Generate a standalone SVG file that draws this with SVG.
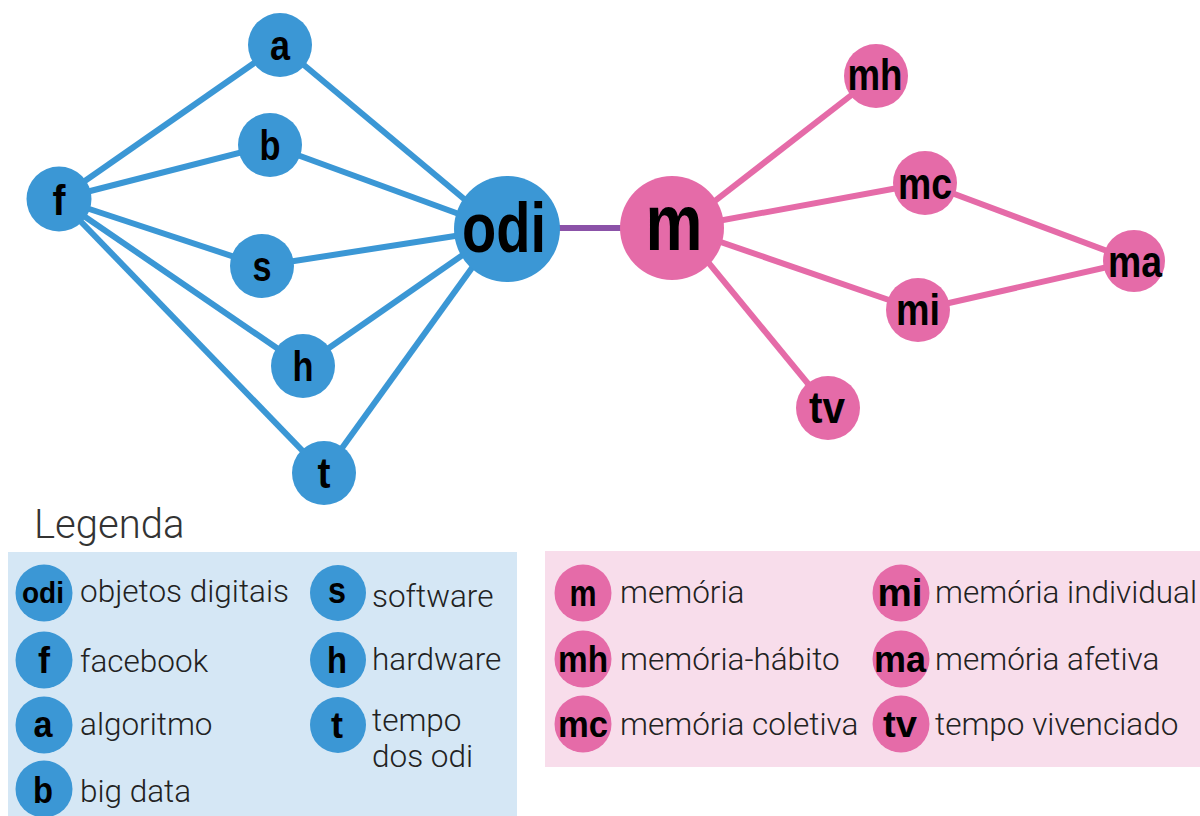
<svg xmlns="http://www.w3.org/2000/svg" width="1200" height="816" viewBox="0 0 1200 816">
<style>
.bn{fill:#3B97D5}
.pn{fill:#E56BA8}
.lb{font-family:"Liberation Sans",Arial,sans-serif;font-weight:bold;fill:#000;text-anchor:middle}
.lt{font-family:Roboto,"Open Sans",sans-serif;font-weight:300;font-size:31.5px;fill:#222}
.be{stroke:#3B97D5;stroke-width:6;fill:none}
.pe{stroke:#E56BA8;stroke-width:6;fill:none}
</style>
<rect width="1200" height="816" fill="#fff"/>
<g id="connectors">
<line class="be" x1="59" y1="199" x2="280" y2="45"/>
<line class="be" x1="59" y1="199" x2="270" y2="145"/>
<line class="be" x1="59" y1="199" x2="262" y2="266"/>
<line class="be" x1="59" y1="199" x2="303" y2="366"/>
<line class="be" x1="59" y1="199" x2="324" y2="473"/>
<line class="be" x1="280" y1="45" x2="500" y2="229"/>
<line class="be" x1="270" y1="145" x2="500" y2="229"/>
<line class="be" x1="262" y1="266" x2="500" y2="229"/>
<line class="be" x1="303" y1="366" x2="500" y2="229"/>
<line class="be" x1="324" y1="473" x2="500" y2="229"/>
<line x1="540" y1="228" x2="640" y2="228" stroke="#8B52A8" stroke-width="6"/>
<line class="pe" x1="680" y1="228" x2="876" y2="76"/>
<line class="pe" x1="680" y1="228" x2="925" y2="183"/>
<line class="pe" x1="680" y1="228" x2="918" y2="310"/>
<line class="pe" x1="680" y1="228" x2="828" y2="408"/>
<line class="pe" x1="925" y1="183" x2="1134" y2="261"/>
<line class="pe" x1="918" y1="310" x2="1134" y2="261"/>
</g>
<g id="node-a"><circle class="bn" cx="280" cy="45" r="32"/><text class="lb" x="280" y="60" font-size="42" textLength="20" lengthAdjust="spacingAndGlyphs">a</text></g>
<g id="node-b"><circle class="bn" cx="270" cy="145" r="32"/><text class="lb" x="270" y="160" font-size="42" textLength="21" lengthAdjust="spacingAndGlyphs">b</text></g>
<g id="node-f"><circle class="bn" cx="59" cy="199" r="32.5"/><text class="lb" x="59" y="215" font-size="42" textLength="13" lengthAdjust="spacingAndGlyphs">f</text></g>
<g id="node-s"><circle class="bn" cx="262" cy="266" r="32"/><text class="lb" x="262" y="281" font-size="42" textLength="19" lengthAdjust="spacingAndGlyphs">s</text></g>
<g id="node-h"><circle class="bn" cx="303" cy="366" r="32"/><text class="lb" x="303" y="381" font-size="42" textLength="21" lengthAdjust="spacingAndGlyphs">h</text></g>
<g id="node-t"><circle class="bn" cx="324" cy="473" r="32"/><text class="lb" x="324" y="488" font-size="42" textLength="13" lengthAdjust="spacingAndGlyphs">t</text></g>
<g id="node-odi"><circle class="bn" cx="507" cy="229" r="53"/><text class="lb" x="504" y="252" font-size="70" textLength="84" lengthAdjust="spacingAndGlyphs">odi</text></g>
<g id="node-m"><circle class="pn" cx="672" cy="228" r="52"/><text class="lb" x="674" y="250" font-size="80" textLength="57" lengthAdjust="spacingAndGlyphs">m</text></g>
<g id="node-mh"><circle class="pn" cx="876" cy="76" r="32"/><text class="lb" x="875" y="90" font-size="44" textLength="55" lengthAdjust="spacingAndGlyphs">mh</text></g>
<g id="node-mc"><circle class="pn" cx="925" cy="183" r="32"/><text class="lb" x="925" y="199" font-size="44" textLength="54" lengthAdjust="spacingAndGlyphs">mc</text></g>
<g id="node-mi"><circle class="pn" cx="918" cy="310" r="32"/><text class="lb" x="918" y="325" font-size="44" textLength="44" lengthAdjust="spacingAndGlyphs">mi</text></g>
<g id="node-ma"><circle class="pn" cx="1134" cy="261" r="31"/><text class="lb" x="1135" y="277" font-size="44" textLength="54" lengthAdjust="spacingAndGlyphs">ma</text></g>
<g id="node-tv"><circle class="pn" cx="828" cy="408" r="32"/><text class="lb" x="827" y="423" font-size="44" textLength="36" lengthAdjust="spacingAndGlyphs">tv</text></g>
<g id="legend">
<text x="34" y="538" font-family="Roboto,sans-serif" font-weight="300" font-size="40" fill="#333">Legenda</text>
<rect x="8" y="552" width="509" height="264" fill="#D5E7F5"/>
<rect x="545" y="551" width="655" height="216" fill="#F8DDEB"/>
<g id="leg-odi"><circle class="bn" cx="44" cy="593" r="28.5"/><text class="lb" x="43" y="603" font-size="30" textLength="42" lengthAdjust="spacingAndGlyphs">odi</text><text class="lt" x="80" y="602">objetos digitais</text></g>
<g id="leg-f"><circle class="bn" cx="44" cy="660" r="28.5"/><text class="lb" x="44" y="673" font-size="37" textLength="12" lengthAdjust="spacingAndGlyphs">f</text><text class="lt" x="80" y="672">facebook</text></g>
<g id="leg-a"><circle class="bn" cx="44" cy="725" r="28.5"/><text class="lb" x="43" y="737" font-size="37" textLength="19" lengthAdjust="spacingAndGlyphs">a</text><text class="lt" x="80" y="735">algoritmo</text></g>
<g id="leg-b"><circle class="bn" cx="44" cy="789" r="28.5"/><text class="lb" x="43" y="803" font-size="37" textLength="20" lengthAdjust="spacingAndGlyphs">b</text><text class="lt" x="80" y="802">big data</text></g>
<g id="leg-s"><circle class="bn" cx="338" cy="593" r="28"/><text class="lb" x="337" y="603" font-size="37" textLength="18" lengthAdjust="spacingAndGlyphs">s</text><text class="lt" x="372" y="607">software</text></g>
<g id="leg-h"><circle class="bn" cx="338" cy="660" r="28"/><text class="lb" x="337" y="673" font-size="37" textLength="20" lengthAdjust="spacingAndGlyphs">h</text><text class="lt" x="372" y="670">hardware</text></g>
<g id="leg-t"><circle class="bn" cx="338" cy="725" r="28"/><text class="lb" x="337" y="738" font-size="37" textLength="12" lengthAdjust="spacingAndGlyphs">t</text><text class="lt" x="372" y="731" font-size="30.5">tempo</text><text class="lt" x="372" y="767" font-size="30.5">dos odi</text></g>
<g id="leg-m"><circle class="pn" cx="583" cy="593" r="28.5"/><text class="lb" x="583" y="606" font-size="36" textLength="27" lengthAdjust="spacingAndGlyphs">m</text><text class="lt" x="620" y="603">memória</text></g>
<g id="leg-mh"><circle class="pn" cx="583" cy="659" r="28.5"/><text class="lb" x="583" y="672" font-size="36" textLength="50" lengthAdjust="spacingAndGlyphs">mh</text><text class="lt" x="620" y="670">memória-hábito</text></g>
<g id="leg-mc"><circle class="pn" cx="583" cy="724" r="28.5"/><text class="lb" x="583" y="737" font-size="36" textLength="50" lengthAdjust="spacingAndGlyphs">mc</text><text class="lt" x="620" y="735">memória coletiva</text></g>
<g id="leg-mi"><circle class="pn" cx="901" cy="593" r="28.5"/><text class="lb" x="900" y="606" font-size="38" textLength="45" lengthAdjust="spacingAndGlyphs">mi</text><text class="lt" x="935" y="603">memória individual</text></g>
<g id="leg-ma"><circle class="pn" cx="901" cy="659" r="28.5"/><text class="lb" x="900" y="672" font-size="36" textLength="52" lengthAdjust="spacingAndGlyphs">ma</text><text class="lt" x="935" y="670">memória afetiva</text></g>
<g id="leg-tv"><circle class="pn" cx="901" cy="724" r="28.5"/><text class="lb" x="900" y="737" font-size="36" textLength="34" lengthAdjust="spacingAndGlyphs">tv</text><text class="lt" x="935" y="735">tempo vivenciado</text></g>
</g>
</svg>
